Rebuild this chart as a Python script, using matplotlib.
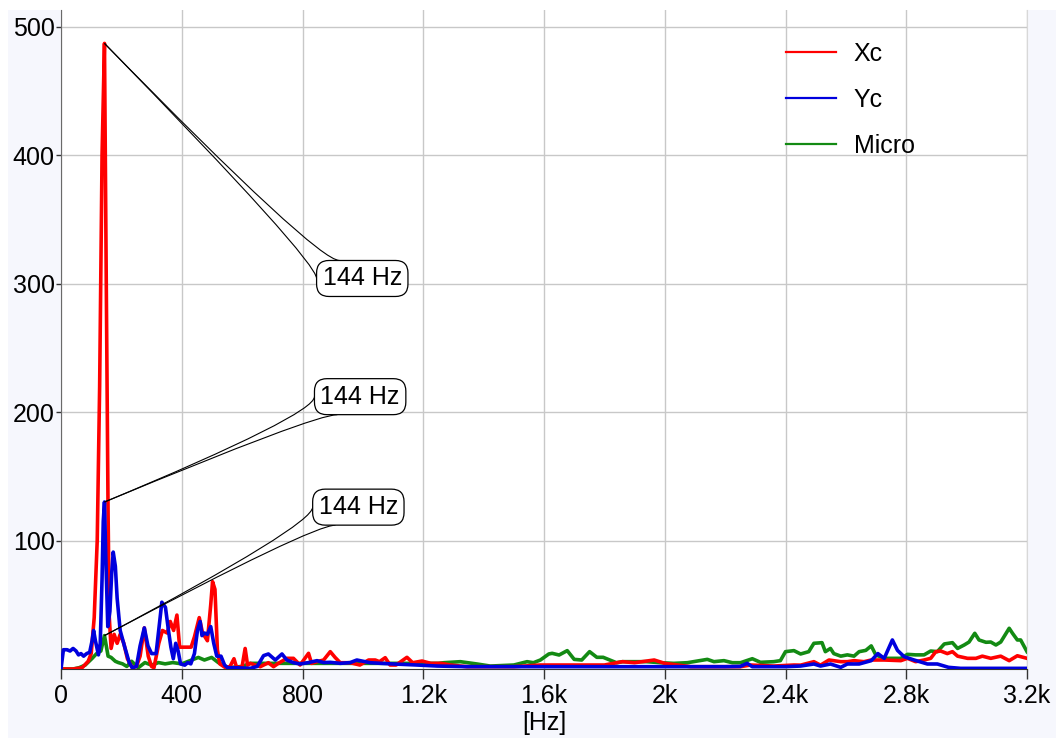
import matplotlib
matplotlib.use("Agg")
import matplotlib.pyplot as plt
from matplotlib.patches import Rectangle, PathPatch
from matplotlib.path import Path
from matplotlib.ticker import FuncFormatter
import numpy as np

plt.rcParams['font.family'] = ['Liberation Sans', 'DejaVu Sans']

# spectrum breakpoints (Hz, amplitude)
xc_hz = [0, 40, 70, 90, 100, 110, 120, 128, 136, 144, 150, 156, 160, 166, 176, 186, 196, 208, 220, 236,
         250, 262, 276, 289, 300, 308, 324, 336, 352, 362, 373, 384, 393, 414, 431, 442, 458, 469, 485,
         496, 502, 510, 518, 526, 545, 560, 573, 582, 600, 610, 618, 627, 660, 687, 704, 720, 748, 770,
         792, 820, 830, 848, 870, 892, 908, 925, 958, 990, 1019, 1041, 1055, 1074, 1090, 1110, 1146,
         1165, 1196, 1225, 1260, 1290, 1345, 1500, 1588, 1700, 1800, 1860, 1900, 1965, 2000, 2086,
         2251, 2284, 2361, 2428, 2450, 2494, 2516, 2544, 2583, 2605, 2627, 2660, 2684, 2727, 2782,
         2804, 2831, 2859, 2881, 2898, 2914, 2936, 2953, 2970, 3003, 3031, 3052, 3080, 3113, 3141,
         3168, 3200]
xc_val = [0, 0, 1, 6, 12, 40, 100, 220, 400, 487, 300, 120, 40, 16, 27, 20, 27, 20, 8, 1,
          2, 10, 32, 10, 2, 1, 20, 30, 28, 37, 30, 42, 17, 17, 17, 25, 40, 28, 22,
          50, 68, 62, 15, 4, 1, 2, 8, 1, 2, 16, 3, 4.4, 1.8, 4.9, 1.8, 4.4, 8.3, 8.3,
          3.1, 12.2, 4.4, 5.7, 7, 13.5, 9, 4.9, 4.9, 3.1, 7, 7, 5.7, 8.8, 3.1, 3.1, 9.1,
          4.9, 6.2, 4.4, 4.4, 3.1, 1.8, 1.8, 3.1, 3.1, 3.1, 5.7, 4.9, 7, 4.4, 1.8,
          1.8, 3.1, 2.3, 3.1, 3, 5.7, 3, 7, 5.7, 5.7, 6.5, 5.7, 7, 7, 6.5,
          8.3, 5.7, 7, 8.3, 13.5, 14, 12, 13.5, 10, 8.3, 8.3, 10, 8.3, 10, 6.5,
          10.3, 8.3]

yc_hz = [0, 8, 20, 30, 40, 50, 58, 66, 75, 85, 95, 103, 108, 114, 124, 130, 136, 140, 144, 148, 155,
         162, 168, 173, 180, 186, 196, 210, 226, 236, 250, 262, 276, 288, 300, 315, 326, 334, 346, 356,
         364, 372, 380, 388, 396, 410, 420, 430, 442, 452, 461, 467, 475, 485, 496, 506, 516, 530, 542,
         552, 580, 627, 650, 671, 687, 710, 732, 748, 770, 792, 820, 848, 870, 892, 925, 958, 980,
         1024, 1060, 1102, 1179, 1246, 1345, 1500, 1800, 2200, 2250, 2273, 2290, 2400, 2450, 2494,
         2516, 2549, 2583, 2605, 2644, 2684, 2706, 2727, 2754, 2771, 2793, 2826, 2870, 2903, 2940,
         2980, 3200]
yc_val = [0, 15, 15, 14, 16, 14, 11, 12, 10, 12, 13, 22, 30, 22, 11, 20, 70, 115, 130, 90, 33,
          45, 75, 91, 80, 55, 30, 18, 5, 1, 2, 18, 32, 18, 12, 12, 35, 52, 48, 30,
          17, 8, 20, 14, 4, 3, 5, 4, 12, 30, 37, 26, 28, 27, 33, 20, 10, 10, 3,
          1, 1, 0.5, 2, 10.4, 11.7, 7, 11.7, 7, 4.9, 3.9, 5, 6.5, 5, 5.2, 4.4, 5, 7,
          4.9, 4.4, 3.9, 3.1, 2.3, 1.8, 1.8, 1.8, 1.8, 2, 4.4, 1.8, 1.8, 2.3, 3.9,
          2.3, 3.9, 1.3, 3.9, 3.9, 6.5, 12, 8.3, 22.6, 14.5, 9.6, 7, 3.9, 3.9, 1.3,
          0.5, 0.5]

micro_hz = [0, 40, 60, 80, 102, 118, 132, 144, 150, 156, 166, 180, 190, 204, 218, 234, 256, 278, 300,
            323, 345, 370, 400, 422, 455, 475, 499, 521, 554, 600, 627, 800, 1000, 1250, 1268, 1323,
            1378, 1422, 1500, 1544, 1565, 1588, 1616, 1627, 1650, 1677, 1700, 1725, 1751, 1775, 1796,
            1818, 1840, 1860, 1900, 1940, 1985, 2030, 2075, 2141, 2163, 2196, 2224, 2251, 2290, 2317,
            2361, 2383, 2400, 2428, 2450, 2477, 2494, 2521, 2532, 2549, 2560, 2583, 2605, 2627, 2644,
            2666, 2684, 2699, 2727, 2782, 2804, 2831, 2859, 2881, 2903, 2926, 2953, 2970, 2992, 3008,
            3027, 3041, 3064, 3080, 3097, 3113, 3141, 3152, 3168, 3179, 3200]
micro_val = [0, 0, 1, 3, 8, 12, 14, 26, 18, 10, 9, 6, 5, 4, 2, 6, 1, 5, 3,
             5, 4, 5, 4, 6, 9, 7, 9, 5, 1, 2, 4.4, 4.4, 4.4, 4.4, 4.9, 5.7,
             3.9, 2.3, 3.1, 5.7, 4.9, 7, 11.7, 12.2, 10.9, 14.3, 7.5, 7, 13.5, 9.1, 9.1,
             7, 4.9, 5.7, 5.7, 5.7, 4.9, 4.4, 4.9, 7.5, 5.7, 6.5, 4.9, 4.9, 8, 5.2,
             5.7, 6.5, 13.5, 14.3, 11.7, 13.5, 20, 20.5, 13.5, 16, 12, 10, 11, 10, 13.5,
             14.5, 18, 11, 8.3, 8.3, 11.4, 11, 11, 14, 13.5, 19.5, 20.5, 16, 18.7, 21,
             27.8, 22.6, 20.8, 21, 18.7, 21, 31.7, 27.8, 22.6, 22.6, 13.5]

x_ticks = [0, 400, 800, 1200, 1600, 2000, 2400, 2800, 3200]
y_ticks = [100, 200, 300, 400, 500]
peak_hz = 144
label_pos = [(998, 304), (991, 212), (985, 126)]

FS = 18

fig = plt.figure(figsize=(10.56, 7.38), dpi=100, facecolor='white')
fig.patches.append(Rectangle((8 / 1056, 0), 1, 728 / 738, transform=fig.transFigure,
                             facecolor='#f6f7fd', edgecolor='none', zorder=-10))
ax = fig.add_axes([61 / 1056, 69 / 738, 966 / 1056, 659 / 738])
ax.set_facecolor('white')

ax.plot(xc_hz, xc_val, color='#ff0000', lw=2.6, label='Xc', zorder=3)
ax.plot(yc_hz, yc_val, color='#0000dd', lw=2.6, label='Yc', zorder=4)
ax.plot(micro_hz, micro_val, color='#138a13', lw=2.6, label='Micro', zorder=2)

ax.set_xlim(0, 3200)
ax.set_ylim(0, 513)
ax.set_xticks(x_ticks)
ax.set_yticks(y_ticks)
ax.xaxis.set_major_formatter(FuncFormatter(
    lambda v, p: '0' if v == 0 else (f'{v / 1000:g}k' if v >= 1000 else f'{v:g}')))
ax.grid(True, color='#c8c8c8', lw=1)
ax.set_axisbelow(True)
ax.spines['top'].set_visible(False)
ax.spines['right'].set_color('#d8d8d8')
ax.spines['left'].set_color('#6a6a6a')
ax.spines['bottom'].set_color('#333333')
ax.tick_params(axis='x', length=7, width=1, labelsize=FS, pad=4, color='#333333')
ax.tick_params(axis='y', length=3.5, width=1, labelsize=FS, pad=1, color='#333333')
ax.set_xlabel('[Hz]', fontsize=FS, labelpad=2)

leg = ax.legend(loc='upper left', bbox_to_anchor=(0.750, 0.952), frameon=False, fontsize=FS,
                handlelength=2.0, handletextpad=0.72, labelspacing=0.88, borderpad=0, borderaxespad=0)
for h in leg.get_lines():
    h.set_linewidth(1.6)

# callouts
peaks = [
    (peak_hz, xc_val[xc_hz.index(peak_hz)]),
    (peak_hz, yc_val[yc_hz.index(peak_hz)]),
    (peak_hz, micro_val[micro_hz.index(peak_hz)]),
]
texts = []
for (lx, ly) in label_pos:
    t = ax.text(lx, ly, '144 Hz', fontsize=FS, ha='center', va='center', zorder=10,
                bbox=dict(boxstyle='round,pad=0.24,rounding_size=0.5', fc='white', ec='black', lw=0.9))
    texts.append(t)

fig.canvas.draw()
renderer = fig.canvas.get_renderer()
inv = ax.transData.inverted()
for t, pk in zip(texts, peaks):
    bb = t.get_bbox_patch().get_window_extent(renderer)
    x0, y0, x1, y1 = bb.x0, bb.y0, bb.x1, bb.y1
    w, h = x1 - x0, y1 - y0
    p = ax.transData.transform(pk)
    if p[1] > y1:
        corner = (x0, y1)
        a = (x0 + 0.25 * w, y1)
        b = (x0, y1 - 0.5 * h)
    else:
        corner = (x0, y0)
        a = (x0 + 0.25 * w, y0)
        b = (x0, y0 + 0.5 * h)
    for start in (a, b):
        pts = inv.transform([start, corner, p])
        path = Path(pts, [Path.MOVETO, Path.CURVE3, Path.CURVE3])
        ax.add_patch(PathPatch(path, fc='none', ec='black', lw=0.8, zorder=9))

fig.savefig('out.png', dpi=100, facecolor=fig.get_facecolor())
